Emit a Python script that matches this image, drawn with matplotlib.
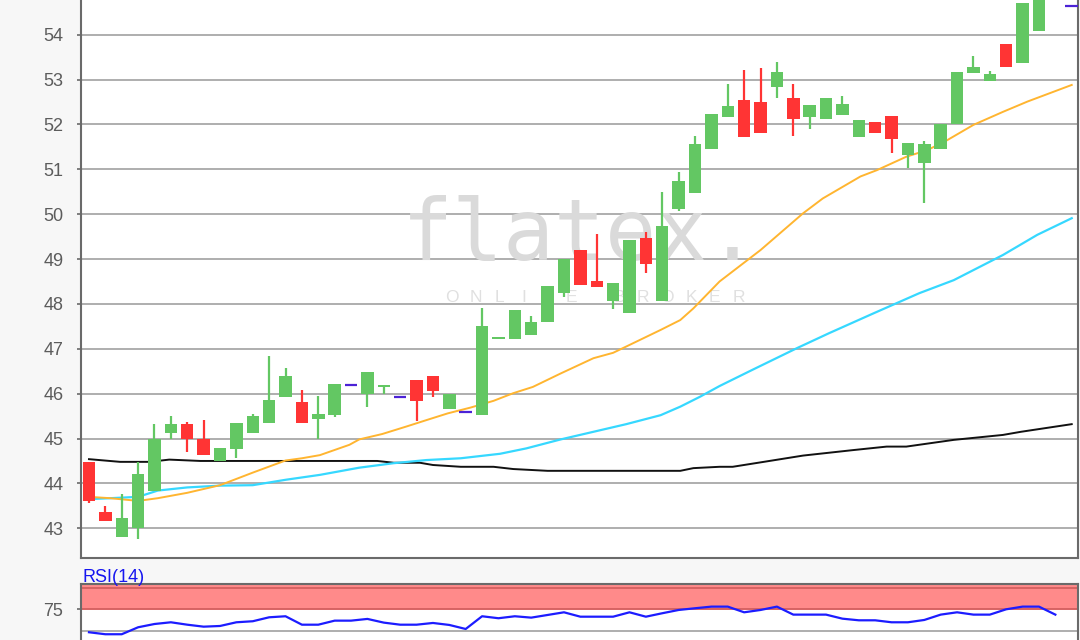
import matplotlib
matplotlib.use("Agg")
import matplotlib.pyplot as plt
import numpy as np

plt.rcParams['font.family'] = ['Liberation Sans', 'DejaVu Sans']

# ---------------- data ----------------
opens  = [44.47, 43.36, 42.80, 43.00, 43.82, 45.12, 45.32, 45.00, 44.50, 44.76,
          45.12, 45.34, 45.92, 45.81, 45.43, 45.52, 46.19, 45.99, 46.14, 45.93,
          46.30, 46.39, 45.65, 45.58, 45.52, 47.21, 47.21, 47.31, 47.60, 48.24,
          49.20, 48.50, 48.07, 47.79, 49.46, 48.06, 50.11, 50.48, 51.45, 52.16,
          52.54, 52.49, 52.83, 52.58, 52.17, 52.12, 52.21, 51.72, 52.05, 52.19,
          51.32, 51.13, 51.45, 52.01, 53.15, 52.97, 53.79, 53.38, 54.08, 55.30,
          54.64]
highs  = [44.47, 43.50, 43.76, 44.48, 45.32, 45.50, 45.36, 45.41, 44.78, 45.35,
          45.54, 46.84, 46.57, 46.08, 45.95, 46.21, 46.19, 46.48, 46.19, 45.93,
          46.30, 46.39, 45.99, 45.58, 47.90, 47.23, 47.86, 47.73, 48.40, 49.00,
          49.20, 49.55, 48.47, 49.42, 49.61, 50.49, 50.95, 51.74, 52.23, 52.90,
          53.21, 53.25, 53.39, 52.90, 52.44, 52.58, 52.63, 52.10, 52.05, 52.19,
          51.59, 51.64, 52.00, 53.16, 53.53, 53.18, 53.79, 54.71, 55.40, 55.80,
          54.64]
lows   = [43.56, 43.17, 42.80, 42.75, 43.82, 44.98, 44.71, 44.63, 44.50, 44.56,
          45.12, 45.34, 45.92, 45.34, 44.98, 45.47, 46.19, 45.70, 46.00, 45.93,
          45.38, 45.92, 45.65, 45.58, 45.52, 47.21, 47.21, 47.31, 47.60, 48.15,
          48.42, 48.37, 47.88, 47.79, 48.68, 48.06, 50.06, 50.48, 51.45, 52.16,
          51.71, 51.80, 52.60, 51.75, 51.89, 52.12, 52.21, 51.72, 51.80, 51.36,
          51.04, 50.24, 51.45, 52.01, 53.15, 52.97, 53.27, 53.38, 54.08, 55.00,
          54.64]
closes = [43.61, 43.17, 43.22, 44.20, 44.98, 45.32, 44.98, 44.63, 44.78, 45.35,
          45.50, 45.86, 46.39, 45.34, 45.54, 46.21, 46.19, 46.48, 46.19, 45.93,
          45.84, 46.06, 45.99, 45.58, 47.51, 47.23, 47.86, 47.59, 48.40, 49.00,
          48.42, 48.37, 48.47, 49.42, 48.90, 49.74, 50.75, 51.56, 52.23, 52.41,
          51.71, 51.80, 53.17, 52.12, 52.44, 52.58, 52.45, 52.10, 51.80, 51.68,
          51.59, 51.56, 52.00, 53.16, 53.29, 53.12, 53.27, 54.71, 55.30, 55.50,
          54.64]

# moving averages (sample position in candle index, value)
ma_orange_x = [0.0, 1.3, 3.0, 4.2, 6.0, 8.0, 10.0, 12.0, 13.0, 14.1, 15.9, 16.5,
               17.9, 19.4, 20.6, 21.9, 23.3, 24.7, 25.9, 27.1, 28.8, 30.8, 32.0,
               32.8, 34.9, 36.1, 36.9, 38.5, 41.0, 43.6, 44.8, 47.1, 48.1, 49.9,
               51.2, 52.4, 54.0, 55.8, 57.3, 60.0]
ma_orange_y = [43.70, 43.67, 43.61, 43.67, 43.79, 43.96, 44.24, 44.51, 44.56, 44.63,
               44.86, 44.98, 45.10, 45.27, 45.41, 45.56, 45.69, 45.84, 46.01, 46.15,
               46.45, 46.79, 46.91, 47.05, 47.42, 47.64, 47.90, 48.50, 49.20, 50.02,
               50.35, 50.84, 50.98, 51.28, 51.43, 51.65, 51.99, 52.28, 52.51, 52.88]

ma_cyan_x = [0.0, 1.3, 3.0, 4.2, 6.0, 8.0, 10.0, 12.0, 14.1, 16.5, 18.6, 20.6,
             22.7, 25.1, 26.7, 28.8, 30.8, 32.8, 34.9, 36.1, 37.3, 38.5, 40.5,
             43.2, 45.2, 47.9, 50.7, 52.8, 55.8, 57.9, 60.0]
ma_cyan_y = [43.65, 43.67, 43.70, 43.84, 43.91, 43.95, 43.96, 44.08, 44.19, 44.35,
             44.45, 44.52, 44.56, 44.66, 44.78, 44.98, 45.15, 45.32, 45.52, 45.71,
             45.93, 46.17, 46.53, 47.01, 47.35, 47.79, 48.24, 48.53, 49.09, 49.54,
             49.91]

ma_black_x = [0.0, 1.9, 3.7, 4.9, 6.8, 16.5, 17.6, 18.6, 20.2, 21.0, 22.7, 24.7,
              25.9, 28.0, 36.1, 36.9, 38.5, 39.3, 41.2, 43.6, 46.6, 48.7, 49.9,
              52.8, 55.8, 56.9, 60.0]
ma_black_y = [44.54, 44.48, 44.48, 44.53, 44.50, 44.50, 44.50, 44.46, 44.46, 44.41,
              44.37, 44.37, 44.32, 44.28, 44.28, 44.34, 44.37, 44.37, 44.48, 44.62,
              44.74, 44.82, 44.82, 44.97, 45.08, 45.15, 45.32]

rsi = [48.5, 46.2, 46.2, 54.3, 58.1, 60.1, 57.3, 55.0, 55.8, 60.1,
       61.3, 65.9, 67.1, 57.3, 57.3, 62.0, 62.0, 64.0, 59.7, 57.3,
       57.3, 59.3, 57.0, 52.3, 67.1, 64.8, 67.1, 65.5, 68.6, 71.7,
       66.6, 66.6, 66.6, 71.7, 66.6, 70.6, 74.4, 76.4, 78.3, 78.3,
       71.7, 74.4, 78.3, 69.0, 69.0, 69.0, 64.3, 62.4, 62.4, 60.1,
       60.1, 62.8, 69.0, 71.7, 69.0, 69.0, 75.2, 78.3, 78.3, 69.0]

price_ticks = [43, 44, 45, 46, 47, 48, 49, 50, 51, 52, 53, 54, 55]
doji_idx = [16, 19, 23, 60]

# ---------------- style ----------------
GREEN = '#63c763'
RED = '#ff3434'
DOJI = '#4b22d6'
GRID = '#a8a8a8'
SPINE = '#6a6a6a'
TXT = '#5c5c5c'

fig = plt.figure(figsize=(10.8, 6.4), dpi=100, facecolor='#f7f7f7')
ax = fig.add_axes([0.0747, 0.1286, 0.9234, 0.8714])
ax.set_facecolor('white')
ax.set_xlim(-0.507, 60.38)
ax.set_ylim(42.344, 54.773)

for t in price_ticks:
    ax.axhline(t, color=GRID, lw=1.3, zorder=1)

ax.set_yticks(price_ticks[:-1])
ax.set_yticklabels([str(t) for t in price_ticks[:-1]])
ax.tick_params(axis='y', length=3, width=1.2, color=SPINE, pad=9.5,
               labelsize=13, labelcolor=TXT)
ax.set_xticks([])
for s in ['left', 'bottom', 'right']:
    ax.spines[s].set_color(SPINE)
    ax.spines[s].set_linewidth(1.5)
ax.spines['top'].set_visible(False)

# watermark
ax.text((580 - 80.7) / 997.3, (557.7 - 260) / 557.7, 'flatex.', transform=ax.transAxes,
        ha='center', va='baseline', fontsize=61, family='DejaVu Sans Mono',
        color='#dadada', zorder=1.5)
wm = 'ONLINE BROKER'
x0 = (452 - 80.7) / 997.3
step = 23.9 / 997.3
for i, ch in enumerate(wm):
    ax.text(x0 + i * step, (557.7 - 302.5) / 557.7, ch, transform=ax.transAxes,
            ha='center', va='baseline', fontsize=12.5, color='#e0e0e0', zorder=1.5)

# moving averages
ax.plot(ma_black_x, ma_black_y, color='#111111', lw=1.4, zorder=2)
ax.plot(ma_cyan_x, ma_cyan_y, color='#36d8ff', lw=1.6, zorder=2)
ax.plot(ma_orange_x, ma_orange_y, color='#ffb530', lw=1.4, zorder=2)

# candles
idx = np.arange(len(opens))
bw = 0.76
for i in idx:
    o, h, l, c = opens[i], highs[i], lows[i], closes[i]
    if i in doji_idx:
        ax.hlines(c, i - bw / 2, i + bw / 2, color=DOJI, lw=1.6, zorder=3)
        continue
    col = GREEN if c >= o else RED
    ax.vlines(i, l, h, color=col, lw=1.6, zorder=3)
    bottom = min(o, c)
    height = max(abs(c - o), 0.045)
    ax.bar(i, height, bw, bottom=bottom, color=col, edgecolor='none', zorder=4)

# ---------------- RSI panel ----------------
ax2 = fig.add_axes([0.0747, -0.0531, 0.9234, 0.1402])
ax2.set_facecolor('white')
ax2.set_xlim(-0.507, 60.38)
ax2.set_ylim(0, 104.3)
ax2.axhspan(75, 104.3, color='#ff8a8a', lw=0, zorder=1)
ax2.axhline(75, color='#d66262', lw=1.4, zorder=2)
ax2.axhline(100, color='#d66262', lw=1.4, zorder=2)
ax2.axhline(50, color=GRID, lw=1.3, zorder=1)
ax2.plot(np.arange(len(rsi)), rsi, color='#1c1cff', lw=1.6, zorder=3)
ax2.set_yticks([75])
ax2.set_yticklabels(['75'])
ax2.tick_params(axis='y', length=3, width=1.2, color=SPINE, pad=9.5,
                labelsize=13, labelcolor=TXT)
ax2.set_xticks([])
for s in ['left', 'top', 'right', 'bottom']:
    ax2.spines[s].set_color(SPINE)
    ax2.spines[s].set_linewidth(1.5)

fig.text(82 / 1080, (640 - 581.7) / 640, 'RSI(14)', ha='left', va='baseline',
         fontsize=13, color='#1616f0')

fig.savefig('out.png', dpi=100, facecolor=fig.get_facecolor())
